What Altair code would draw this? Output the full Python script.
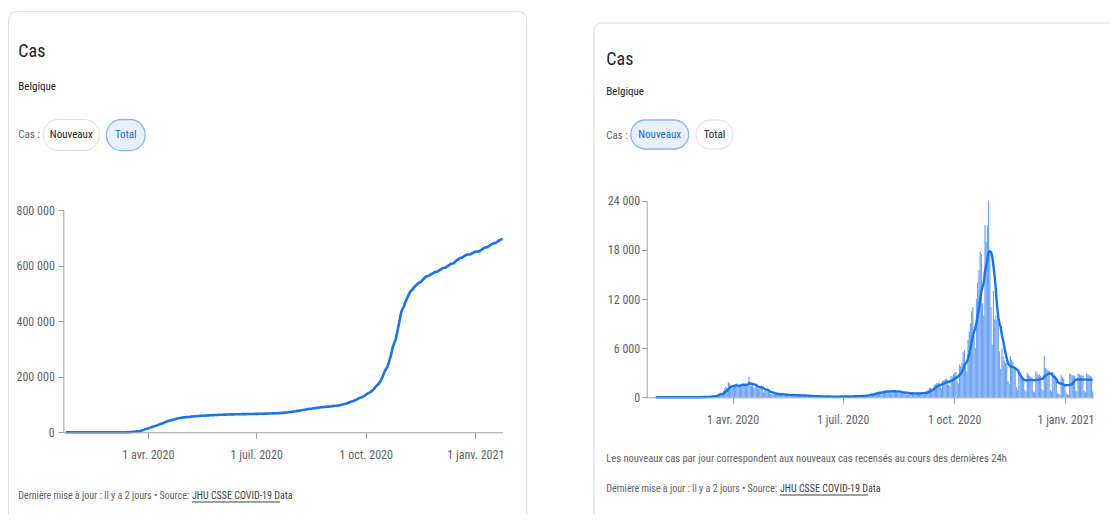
import altair as alt
import pandas as pd

# ---------------- data : daily new cases, Belgium ----------------
jan_2020 = [0, 0, 0, 0, 0, 0, 0, 0, 0, 0]  # 22..31 Jan
feb_2020 = [0, 0, 0, 1, 0, 0, 0, 0, 0, 0, 0, 0, 0, 0, 0, 0, 0, 0, 0, 0, 0, 0, 0, 0, 0, 0, 0, 0, 0]
mar_2020 = [0, 6, 5, 10, 27, 60, 60, 31, 39, 28, 47, 85, 160, 130, 200, 170, 185, 245, 310, 460,
            560, 590, 340, 780, 1100, 1300, 1050, 1850, 1700, 1065, 1200]
apr_2020 = [1450, 1500, 1550, 1700, 1300, 1250, 1400, 1650, 1750, 1500, 1700, 1350, 1600, 2500, 1400,
            1450, 1500, 1200, 1150, 1550, 1100, 1000, 1100, 1450, 1000, 600, 750, 700, 1000, 650]
may_2020 = [600, 400, 380, 360, 300, 420, 560, 450, 320, 320, 240, 290, 330, 400, 370, 250, 220, 190,
            290, 330, 300, 260, 290, 180, 160, 210, 250, 270, 260, 200, 140]
jun_2020 = [90, 160, 200, 190, 170, 130, 100, 70, 130, 150, 130, 120, 90, 70, 60, 110, 120, 110, 120,
            90, 0, 20, 90, 110, 120, 110, 80, 50, 60, 110]
jul_2020 = [100, 130, 120, 100, 70, 80, 140, 160, 150, 140, 100, 90, 110, 200, 200, 220, 230, 170, 140,
            200, 300, 380, 420, 460, 380, 300, 480, 600, 650, 700, 680]
aug_2020 = [550, 420, 750, 800, 850, 820, 780, 550, 450, 820, 880, 850, 780, 720, 500, 420, 700, 680,
            640, 600, 550, 380, 300, 560, 580, 540, 500, 460, 320, 270, 600]
sep_2020 = [600, 550, 580, 560, 380, 320, 700, 800, 900, 1100, 1200, 900, 800, 1500, 1600, 1700, 1750,
            1800, 1300, 1100, 2000, 2100, 2200, 2300, 2100, 1500, 1300, 2600, 2500, 2800]
oct_2020 = [3000, 3100, 2000, 1700, 4000, 3800, 4200, 5500, 5800, 3800, 3200, 7000, 8000, 9000, 10500,
            11000, 7500, 6000, 12000, 14000, 15500, 17800, 17500, 11500, 10000, 21000, 19000, 21000,
            24000, 18000, 11000]
nov_2020 = [6400, 13000, 9500, 10000, 9500, 9000, 5600, 3500, 6000, 5000, 4500, 4200, 4200, 2000, 1600,
            5000, 4600, 4300, 3800, 3500, 1200, 900, 3000, 2700, 2400, 2500, 2400, 900, 700, 3000]
dec_2020 = [2800, 2600, 2500, 2400, 700, 600, 3200, 2900, 2700, 2800, 2600, 1000, 800, 5000, 3600,
            3400, 3300, 3200, 900, 700, 3100, 2900, 2600, 2200, 500, 400, 300, 2700, 2500, 2300, 1600]
jan_2021 = [600, 400, 300, 2900, 2800, 2700, 2700, 2600, 800, 700, 2900, 2800, 2700, 2700, 2600, 800,
            600, 2900, 2800, 2700, 2600, 2500, 700]

y_ticks_total = [0, 200000, 400000, 600000, 800000]
y_ticks_new = [0, 6000, 12000, 18000, 24000]

daily = (jan_2020 + feb_2020 + mar_2020 + apr_2020 + may_2020 + jun_2020 + jul_2020 + aug_2020
         + sep_2020 + oct_2020 + nov_2020 + dec_2020 + jan_2021)
dates = pd.date_range("2020-01-22", periods=len(daily), freq="D")
df = pd.DataFrame({"date": dates, "new": daily})
df["end"] = df["date"] + pd.Timedelta(days=1)
df["mid"] = df["date"] + pd.Timedelta(hours=12)
df["total"] = df["new"].cumsum()
df["avg"] = df["new"].rolling(7).mean()
avg_df = df.dropna(subset=["avg"]).reset_index(drop=True)

# ---------------- styling ----------------
FONT = "Liberation Sans Narrow, Roboto Condensed, DejaVu Sans Condensed, Roboto, sans-serif"
BLUE = "#1a73e8"
BAR = "#6fa3f5"
DARK = "#202124"
GREY = "#5f6368"
LINK = "#3c4043"
AXIS = "#9aa0a6"
BORDER = "#dadce0"
H = 506
W1, W2 = 582, 519
ONE = pd.DataFrame({"k": [0]})

x_domain = [alt.DateTime(year=2020, month=1, date=21), alt.DateTime(year=2021, month=1, date=24)]
x_ticks = [alt.DateTime(year=2020, month=4, date=1), alt.DateTime(year=2020, month=7, date=1),
           alt.DateTime(year=2020, month=10, date=1), alt.DateTime(year=2021, month=1, date=1)]


def txt(s, x, y, size, color, align="left", baseline="alphabetic"):
    return alt.Chart(ONE).mark_text(text=s, font=FONT, fontSize=size, color=color, align=align,
                                    baseline=baseline).encode(x=alt.value(x), y=alt.value(y))


def box(x, x2, y, y2, fill, stroke, radius, sw=1.0, clip=False):
    return alt.Chart(ONE).mark_rect(fill=fill, stroke=stroke, strokeWidth=sw, cornerRadius=radius,
                                    clip=clip).encode(x=alt.value(x), x2=alt.value(x2),
                                                      y=alt.value(y), y2=alt.value(y2))


def hline(x, x2, y, color):
    return alt.Chart(ONE).mark_rule(color=color, strokeWidth=1).encode(
        x=alt.value(x), x2=alt.value(x2), y=alt.value(y))


def x_axis(offset, pad):
    return alt.Axis(values=x_ticks, format="%-d %b %Y", title=None, grid=False, offset=offset,
                    domainColor=AXIS, tickColor=AXIS, tickSize=6, labelPadding=pad, labelFont=FONT,
                    labelFontSize=12, labelColor=GREY, labelFlush=False, labelOverlap=False, zindex=1)


def y_axis(values, offset, pad):
    return alt.Axis(values=values, format=",.0f", title=None, grid=False, offset=offset,
                    domainColor=AXIS, tickColor=AXIS, tickSize=5, labelPadding=pad, labelFont=FONT,
                    labelFontSize=12, labelColor=GREY, zindex=1)


FOOT = "Dernière mise à jour : Il y a 2 jours • Source:"
LINKTXT = "JHU CSSE COVID-19 Data"

# ---------------- left card : total ----------------
xl = alt.Scale(domain=x_domain, range=[55.3, 494.7], nice=False)
yl = alt.Scale(domain=[0, 800000], range=[424.3, 202], nice=False)
total_line = alt.Chart(df).mark_line(color=BLUE, strokeWidth=2.6, strokeJoin="round").encode(
    x=alt.X("end:T", scale=xl, axis=x_axis(424.3 - H, 11)),
    y=alt.Y("total:Q", scale=yl, axis=y_axis(y_ticks_total, -55.3, 4)),
)

left = alt.layer(
    box(0.5, 518.7, 3.7, 515, "white", BORDER, 8, clip=True),
    total_line,
    txt("Cas", 10.3, 48.5, 18, DARK),
    txt("Belgique", 10.3, 81.5, 11, DARK),
    txt("Cas :", 10.3, 127, 11, GREY, baseline="middle"),
    box(35.3, 91.3, 111.5, 142.5, "white", BORDER, 15),
    txt("Nouveaux", 63.3, 127, 11, DARK, align="center", baseline="middle"),
    box(98.5, 137.0, 111.5, 142.5, "#e8f0fe", "#8ab4f8", 15, sw=1.3),
    txt("Total", 117.75, 127, 11, "#1967d2", align="center", baseline="middle"),
    txt(FOOT, 10.3, 488, 10, GREY, baseline="middle"),
    txt(LINKTXT, 184, 488, 10, LINK, baseline="middle"),
    hline(184, 272, 494, LINK),
).properties(width=W1, height=H)

# ---------------- right card : new cases ----------------
xr = alt.Scale(domain=x_domain, range=[56.7, 503.3], nice=False)
yr = alt.Scale(domain=[0, 24000], range=[389.3, 192.7], nice=False)
bars = alt.Chart(df).mark_bar(color=BAR).encode(
    x=alt.X("date:T", scale=xr, axis=x_axis(389.3 - H, 11)),
    x2="end:T",
    y=alt.Y("new:Q", scale=yr, axis=y_axis(y_ticks_new, -56.7, 2)),
    y2=alt.datum(0),
)
avg_line = alt.Chart(avg_df).mark_line(color=BLUE, strokeWidth=2.4, strokeJoin="round").encode(
    x=alt.X("mid:T", scale=xr),
    y=alt.Y("avg:Q", scale=yr),
)

right = alt.layer(
    box(4, 540, 15, 520, "white", BORDER, 8, clip=True),
    bars,
    avg_line,
    txt("Cas", 16.3, 57, 18, DARK),
    txt("Belgique", 16.3, 87, 11, DARK),
    txt("Cas :", 16.3, 127.5, 11, GREY, baseline="middle"),
    box(40.8, 98.6, 112, 141, "#e8f0fe", "#8ab4f8", 15, sw=1.3),
    txt("Nouveaux", 69.7, 126.5, 11, "#1967d2", align="center", baseline="middle"),
    box(106, 142.9, 112, 141, "white", BORDER, 15),
    txt("Total", 124.5, 126.5, 11, DARK, align="center", baseline="middle"),
    txt("Les nouveaux cas par jour correspondent aux nouveaux cas recensés au cours des dernières 24h",
        16.3, 450.5, 10.5, GREY, baseline="middle"),
    txt(FOOT, 16.3, 481, 10, GREY, baseline="middle"),
    txt(LINKTXT, 190, 481, 10, LINK, baseline="middle"),
    hline(190, 278, 487, LINK),
).properties(width=W2, height=H)

fr_locale = {
    "number": {"decimal": ",", "thousands": "\u00a0", "grouping": [3], "currency": ["", "\u00a0€"]},
    "time": {
        "dateTime": "%A %e %B %Y à %X", "date": "%d/%m/%Y", "time": "%H:%M:%S",
        "periods": ["AM", "PM"],
        "days": ["dimanche", "lundi", "mardi", "mercredi", "jeudi", "vendredi", "samedi"],
        "shortDays": ["dim.", "lun.", "mar.", "mer.", "jeu.", "ven.", "sam."],
        "months": ["janvier", "février", "mars", "avril", "mai", "juin", "juillet", "août",
                   "septembre", "octobre", "novembre", "décembre"],
        "shortMonths": ["janv.", "févr.", "mars", "avr.", "mai", "juin", "juil.", "août", "sept.",
                        "oct.", "nov.", "déc."],
    },
}

chart = (
    alt.hconcat(left, right, spacing=0)
    .properties(padding=0, background="white")
    .configure(locale=fr_locale)
    .configure_view(strokeWidth=0)
)

chart.save("out.html", embed_options={"renderer": "svg", "actions": False})
